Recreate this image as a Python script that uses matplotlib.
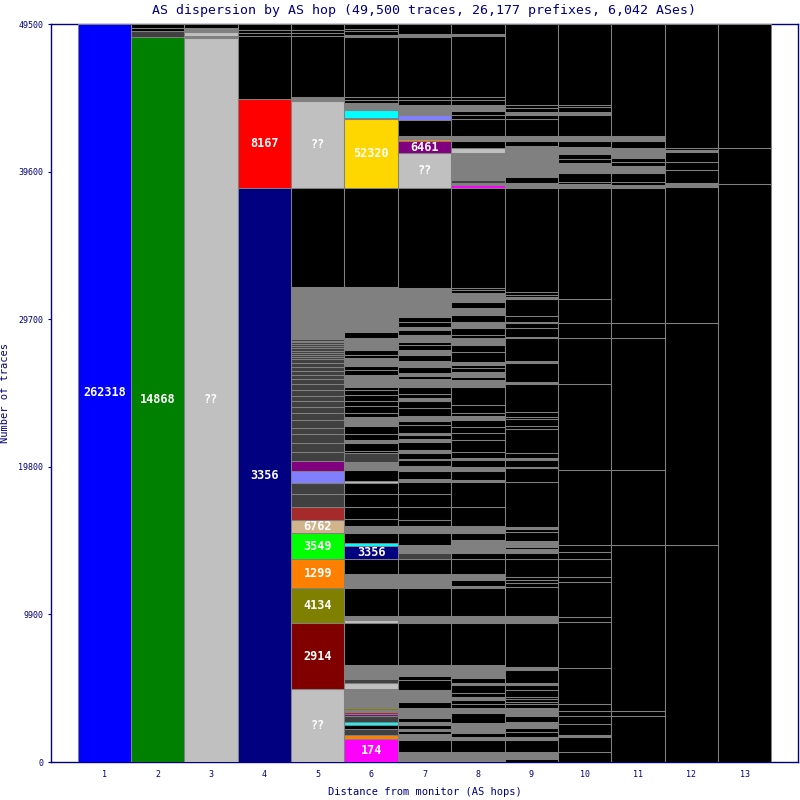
import numpy as np
import matplotlib.pyplot as plt

# chart text
title = "AS dispersion by AS hop (49,500 traces, 26,177 prefixes, 6,042 ASes)"
x_label = "Distance from monitor (AS hops)"
y_label = "Number of traces"
hops = list(range(1, 14))
y_ticks = [0, 9900, 19800, 29700, 39600, 49500]

# colour codes used in the per-hop colour lists
palette = {
    "B": "#0000FF", "G": "#008000", "L": "#C0C0C0", "N": "#000080",
    "R": "#FF0000", "Y": "#FFD700", "C": "#00FFFF", "P": "#800080",
    "V": "#8080FF", "M": "#FF00FF", "O": "#FF8000", "E": "#808000",
    "W": "#800000", "H": "#00FF00", "T": "#D2B48C", "A": "#A52A2A",
    "D": "#404040", "g": "#808080", "k": "#000000",
}

# segments of each hop, listed from the bottom up (number of traces)
hop1_sizes = [49500]
hop1_colors = ["B"]
hop1_labels = {0: "262318"}

hop2_sizes = [48626, 402, 201, 268]
hop2_colors = ["G", "D", "k", "k"]
hop2_labels = {0: "14868"}

hop3_sizes = [48580, 134, 250, 270, 266]
hop3_colors = ["L", "g", "L", "g", "k"]
hop3_labels = {0: "??"}

hop4_sizes = [38498, 5969, 4225, 200, 200, 408]
hop4_colors = ["N", "R", "k", "k", "k", "k"]
hop4_labels = {0: "3356", 1: "8167"}

hop5_sizes = [4896, 4427, 2347, 1945, 1744, 872, 872, 872, 738, 805, 671,
              624, 563, 603, 442, 516, 449, 442, 402, 335, 382, 382, 335,
              288, 288, 228, 268, 268, 134, 154, 154, 134, 161, 154, 134,
              134, 100, 100, 100, 335, 67, 2985,
              6633, 5829, 268, 4091, 201, 201, 402]
hop5_colors = ["L", "W", "E", "O", "H", "T", "A", "D", "D", "V", "P",
               "D", "D", "D", "D", "D", "D", "D", "D", "D", "D", "D", "D",
               "D", "D", "D", "D", "D", "D", "D", "D", "D", "D", "D", "D",
               "D", "C", "D", "M", "g", "D", "g",
               "k", "L", "g", "k", "k", "k", "k"]
hop5_labels = {0: "??", 1: "2914", 2: "4134", 3: "1299", 4: "3549",
               5: "6762", 43: "??"}

hop6_sizes = [1543, 268, 402, 268, 201, 402, 134, 134, 134, 134, 1274, 402,
              268, 939, 2817, 201, 268, 1878, 268, 67, 604, 1006, 872, 201,
              671, 134, 67, 268, 470, 805, 872, 738, 134, 738, 537, 604,
              134, 537, 201, 402, 537, 604, 268, 470, 335, 402, 335, 201,
              805, 335, 268, 537, 201, 335, 805, 402, 3018, 6633, 4628, 67,
              537, 470, 201, 201, 4024, 134, 268, 134, 335]
hop6_colors = ["M", "O", "D", "k", "C", "D", "P", "A", "g", "E", "g", "L",
               "D", "g", "k", "L", "g", "k", "g", "k", "g", "k", "N", "C",
               "k", "g", "L", "g", "k", "k", "k", "k", "L", "k", "g", "D",
               "k", "k", "g", "k", "k", "g", "k", "k", "k", "k", "k", "k",
               "g", "k", "k", "g", "k", "k", "g", "k", "g", "k", "Y", "g",
               "C", "g", "k", "k", "k", "g", "k", "k", "k"]
hop6_labels = {0: "174", 22: "3356", 58: "52320"}

hop7_sizes = [67, 604, 805, 335, 67, 201, 134, 268, 201, 268, 670, 402, 805,
              670, 268, 738, 2817, 470, 1878, 939, 1006, 402, 67, 470, 805,
              470, 402, 872, 872, 805, 201, 537, 335, 402, 67, 402, 201,
              537, 201, 268, 134, 537, 268, 335, 537, 470, 201, 268, 470,
              537, 201, 201, 402, 402, 402, 335, 335, 201, 470, 335, 201,
              335, 335, 402, 67, 1475, 6707, 2347, 805, 134, 201, 1073,
              335, 671, 335, 201, 4024, 201, 670]
hop7_colors = ["L", "g", "k", "g", "L", "k", "g", "k", "g", "k", "g", "k", "g",
               "k", "k", "g", "k", "g", "k", "g", "k", "D", "L", "g", "k",
               "g", "k", "k", "k", "k", "g", "k", "g", "k", "L", "k", "g",
               "k", "g", "k", "g", "k", "k", "g", "k", "k", "g", "k", "k",
               "g", "k", "g", "k", "g", "k", "g", "k", "k", "g", "k", "g",
               "k", "k", "g", "k", "g", "k", "L", "P", "O", "g", "k",
               "V", "g", "k", "k", "k", "g", "k"]
hop7_labels = {67: "??", 68: "6461"}

hop8_sizes = [670, 805, 201, 268, 670, 670, 335, 268, 268, 201, 268, 537,
              134, 335, 872, 2817, 470, 1878, 134, 402, 402, 1006, 402, 872,
              470, 470, 1274, 1677, 134, 604, 268, 470, 134, 402, 805, 470,
              402, 470, 268, 201, 537, 1207, 470, 201, 335, 268, 201, 201,
              670, 470, 470, 201, 470, 402, 470, 470, 402, 604, 201, 134,
              6707, 201, 134, 201, 1811, 335, 470, 335, 1140, 268, 268, 402,
              335, 201, 4091, 134, 670]
hop8_colors = ["g", "k", "g", "k", "g", "k", "g", "k", "k", "g", "k", "k",
               "g", "k", "g", "k", "g", "k", "g", "k", "g", "k", "k", "g",
               "k", "g", "k", "k", "g", "k", "g", "k", "g", "k", "k", "k",
               "k", "k", "g", "k", "k", "k", "g", "k", "g", "k", "k", "g",
               "k", "k", "g", "k", "k", "g", "k", "g", "k", "g", "k", "k",
               "k", "M", "g", "D", "g", "L", "k", "g", "k", "k", "k", "g",
               "k", "k", "k", "g", "k"]
hop8_labels = {}

hop9_sizes = [201, 470, 805, 201, 335, 268, 402, 402, 537, 268, 134, 201,
              134, 470, 335, 134, 872, 201, 2951, 470, 1945, 268, 201, 201,
              1207, 402, 268, 134, 402, 604, 201, 134, 3018, 939, 67, 470,
              134, 335, 1610, 201, 470, 134, 335, 1878, 134, 1274, 134, 1543,
              67, 604, 335, 67, 402, 1140, 134, 134, 201, 6975, 335, 402,
              537, 67, 1475, 335, 335, 1140, 268, 201, 268, 201, 5433]
hop9_colors = ["k", "g", "k", "g", "k", "k", "g", "k", "g", "k", "k", "k",
               "k", "k", "k", "g", "k", "g", "k", "g", "k", "k", "k", "k",
               "k", "k", "g", "k", "g", "k", "k", "g", "k", "k", "g", "k",
               "g", "k", "k", "k", "k", "k", "k", "k", "g", "k", "g", "k",
               "g", "k", "k", "g", "k", "k", "g", "k", "k", "k", "g", "k",
               "g", "k", "g", "k", "g", "k", "k", "g", "k", "k", "k"]
hop9_labels = {}

hop10_sizes = [670, 1006, 134, 738, 537, 335, 470, 2414, 3085, 335, 2347,
               335, 1207, 470, 470, 5030, 5768, 3085, 1006, 1610, 7445, 268,
               134, 604, 670, 268, 335, 470, 402, 335, 1408, 201, 335, 134,
               5433]
hop10_colors = ["k", "k", "g", "k", "k", "k", "k", "k", "k", "k", "k",
                "k", "k", "k", "k", "k", "k", "k", "k", "k", "k", "g",
                "k", "k", "g", "k", "k", "g", "k", "g", "k", "g", "k", "k",
                "k"]
hop10_labels = {}

hop11_sizes = [3085, 335, 11134, 5030, 8853, 1006, 9054, 201, 201, 604, 470,
               268, 268, 670, 470, 335, 7512]
hop11_colors = ["k", "k", "k", "k", "k", "k", "k", "g", "k", "k", "g",
                "k", "k", "g", "k", "g", "k"]
hop11_labels = {}

hop12_sizes = [14554, 14890, 9121, 268, 872, 537, 670, 134, 134, 8317]
hop12_colors = ["k", "k", "k", "g", "k", "k", "k", "g", "k", "k"]
hop12_labels = {}

hop13_sizes = [38766, 2414, 8317]
hop13_colors = ["k", "k", "k"]
hop13_labels = {}

all_sizes = [hop1_sizes, hop2_sizes, hop3_sizes, hop4_sizes, hop5_sizes,
             hop6_sizes, hop7_sizes, hop8_sizes, hop9_sizes, hop10_sizes,
             hop11_sizes, hop12_sizes, hop13_sizes]
all_colors = [hop1_colors, hop2_colors, hop3_colors, hop4_colors, hop5_colors,
              hop6_colors, hop7_colors, hop8_colors, hop9_colors, hop10_colors,
              hop11_colors, hop12_colors, hop13_colors]
all_labels = [hop1_labels, hop2_labels, hop3_labels, hop4_labels, hop5_labels,
              hop6_labels, hop7_labels, hop8_labels, hop9_labels, hop10_labels,
              hop11_labels, hop12_labels, hop13_labels]

navy = "#000080"
font = "DejaVu Sans Mono"

fig = plt.figure(figsize=(8, 8), dpi=100)
ax = fig.add_axes([51 / 800, 38 / 800, 747 / 800, 738 / 800])

for hop, sizes, colors, labels in zip(hops, all_sizes, all_colors, all_labels):
    sizes = np.array(sizes, dtype=float)
    bottoms = np.concatenate([[0], np.cumsum(sizes)[:-1]])
    ax.bar([hop] * len(sizes), sizes, bottom=bottoms, width=1.0,
           color=[palette[c] for c in colors], edgecolor="#808080",
           linewidth=0.75, zorder=3)
    # white AS numbers in the middle of the big segments
    for i, text in labels.items():
        ax.text(hop, bottoms[i] + sizes[i] / 2, text, color="white",
                ha="center", va="center", fontsize=8.5, fontweight="bold",
                family=font, zorder=4)

ax.set_xlim(0, 14)
ax.set_ylim(0, 49500)
ax.set_xticks(hops)
ax.set_yticks(y_ticks)
ax.tick_params(axis="both", colors=navy, labelsize=6, length=2, width=0.8)
ax.tick_params(axis="x", length=0, pad=6)
for lab in ax.get_xticklabels() + ax.get_yticklabels():
    lab.set_family(font)
for side in ax.spines.values():
    side.set_color(navy)
    side.set_linewidth(1.0)

ax.set_title(title, color=navy, fontsize=9.5, family=font, pad=7)
ax.set_xlabel(x_label, color=navy, fontsize=7.5, family=font)
ax.xaxis.set_label_coords(0.5, -0.034)
ax.set_ylabel(y_label, color=navy, fontsize=7.5, family=font, labelpad=6)

fig.savefig("out.png", dpi=100)
